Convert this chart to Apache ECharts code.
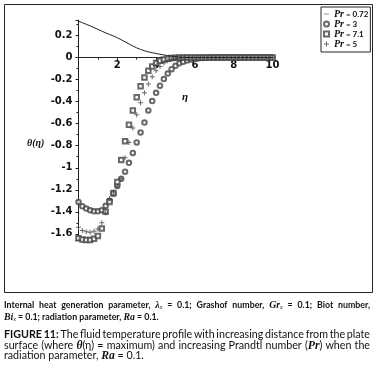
<!DOCTYPE html>
<html>
<head>
<meta charset="utf-8">
<script src="https://cdn.jsdelivr.net/npm/echarts@6/dist/echarts.min.js"></script>
<style>
  html, body { margin: 0; padding: 0; background: #fff; }
  #main { width: 377px; height: 371px; }
</style>
</head>
<body>
<div id="main"></div>
<script>
// eta grid (x values)
var eta = [0, 0.2, 0.4, 0.6, 0.8, 1.0, 1.2, 1.4, 1.6, 1.8,
  2.0, 2.2, 2.4, 2.6, 2.8, 3.0, 3.2, 3.4, 3.6, 3.8,
  4.0, 4.2, 4.4, 4.6, 4.8, 5.0, 5.2, 5.4, 5.6, 5.8,
  6.0, 6.2, 6.4, 6.6, 6.8, 7.0, 7.2, 7.4, 7.6, 7.8,
  8.0, 8.2, 8.4, 8.6, 8.8, 9.0, 9.2, 9.4, 9.6, 9.8, 10.0];

// Pr = 0.72 (solid line)
var pr072 = [0.33, 0.316, 0.302, 0.288, 0.272, 0.256, 0.240, 0.224, 0.210, 0.196,
  0.180, 0.162, 0.143, 0.124, 0.105, 0.088, 0.074, 0.062, 0.052, 0.044,
  0.037, 0.030, 0.024, 0.018, 0.012, 0.007, 0.004, 0.002, 0.001, 0,
  0, 0, 0, 0, 0, 0, 0, 0, 0, 0,
  0, 0, 0, 0, 0, 0, 0, 0, 0, 0, 0];

// Pr = 3 (circles)
var pr3 = [-1.31, -1.35, -1.37, -1.385, -1.395, -1.395, -1.385, -1.345, -1.30, -1.235,
  -1.165, -1.10, -1.035, -0.955, -0.865, -0.77, -0.68, -0.59, -0.48, -0.395,
  -0.32, -0.255, -0.195, -0.145, -0.105, -0.075, -0.052, -0.038, -0.027, -0.018,
  -0.012, -0.007, -0.004, -0.002, 0, 0, 0, 0, 0, 0,
  0, 0, 0, 0, 0, 0, 0, 0, 0, 0, 0];

// Pr = 7.1 (squares)
var pr71 = [-1.64, -1.65, -1.655, -1.655, -1.645, -1.62, -1.55, -1.40, -1.31, -1.23,
  -1.13, -0.93, -0.76, -0.61, -0.48, -0.36, -0.26, -0.18, -0.12, -0.08,
  -0.05, -0.03, -0.018, -0.01, -0.005, -0.002, 0, 0, 0, 0,
  0, 0, 0, 0, 0, 0, 0, 0, 0, 0,
  0, 0, 0, 0, 0, 0, 0, 0, 0, 0, 0];

// Pr = 5 (plus)
var pr5 = [-1.54, -1.57, -1.58, -1.585, -1.575, -1.555, -1.50, -1.41, -1.28, -1.22,
  -1.17, -1.10, -0.91, -0.77, -0.64, -0.52, -0.41, -0.32, -0.24, -0.175,
  -0.12, -0.08, -0.05, -0.03, -0.017, -0.009, -0.004, -0.002, 0, 0,
  0, 0, 0, 0, 0, 0, 0, 0, 0, 0,
  0, 0, 0, 0, 0, 0, 0, 0, 0, 0, 0];

var seriesNames = ['Pr = 0.72', 'Pr = 3', 'Pr = 7.1', 'Pr = 5'];

function pairs(ys) {
  return eta.map(function (x, i) { return [x, ys[i]]; });
}

var plusPath = 'path://M2,0H3V2H5V3H3V5H2V3H0V2H2Z';
var axisFont = 'DejaVu Sans';
var capFont = 'Lato';
var mathFont = 'Liberation Serif';
var ink = '#222';
var markInk = '#444';

function capRich(size) {
  return {
    m: { fontFamily: mathFont, fontStyle: 'italic', fontWeight: 'bold', fontSize: size + 1 },
    s: { fontFamily: mathFont, fontStyle: 'italic', fontWeight: 'normal', fontSize: 6, verticalAlign: 'bottom' },
    b: { fontFamily: capFont, fontStyle: 'normal', fontWeight: 'bold', fontSize: size }
  };
}

// measure a word that may hold {tag|text} pieces
var measureCtx = document.createElement('canvas').getContext('2d');
function wordWidth(word, size, weight) {
  var fonts = {
    '': weight + ' ' + size + 'px ' + capFont,
    m: 'italic bold ' + (size + 1) + 'px "' + mathFont + '"',
    s: 'italic 6px "' + mathFont + '"',
    b: 'bold ' + size + 'px ' + capFont
  };
  var re = /\{(\w)\|([^}]*)\}/g, last = 0, w = 0, mm;
  while ((mm = re.exec(word)) !== null) {
    if (mm.index > last) { measureCtx.font = fonts['']; w += measureCtx.measureText(word.slice(last, mm.index)).width; }
    measureCtx.font = fonts[mm[1]];
    w += measureCtx.measureText(mm[2]).width;
    last = re.lastIndex;
  }
  if (last < word.length) { measureCtx.font = fonts['']; w += measureCtx.measureText(word.slice(last)).width; }
  return w;
}

// lay a caption line out word by word, optionally stretched to a width
function capLine(x, y, txt, size, weight, justifyTo) {
  var rich = capRich(size);
  var words = txt.split(' ');
  var widths = words.map(function (w) { return wordWidth(w, size, weight); });
  measureCtx.font = weight + ' ' + size + 'px ' + capFont;
  var spaceW = measureCtx.measureText(' ').width;
  var total = widths.reduce(function (a, b) { return a + b; }, 0);
  var gap = justifyTo ? (justifyTo - total) / (words.length - 1) : spaceW;
  var out = [];
  var cx = x;
  words.forEach(function (w, i) {
    out.push({
      type: 'text', x: cx, y: y,
      style: {
        text: w, fontFamily: capFont, fontSize: size, fontWeight: weight, fontStyle: 'normal',
        rich: rich, fill: '#111', verticalAlign: 'middle'
      }
    });
    cx += widths[i] + gap;
  });
  return out;
}

var myChart = echarts.init(document.getElementById('main'));

var zeroOffset = -(240.5 - 57.57);

var graphics = [
  { type: 'rect', shape: { x: 4.5, y: 4.5, width: 368, height: 288 }, style: { fill: 'none', stroke: ink, lineWidth: 1 }, z: 0 },
  { type: 'text', x: 182, y: 97, style: { text: 'η', fontFamily: mathFont, fontStyle: 'italic', fontWeight: 'bold', fontSize: 11, fill: '#111', verticalAlign: 'middle' } },
  { type: 'text', x: 27, y: 143, style: { text: 'θ(η)', fontFamily: mathFont, fontStyle: 'italic', fontWeight: 'bold', fontSize: 10, fill: '#111', verticalAlign: 'middle' } }
];
graphics = graphics
  .concat(capLine(4, 305, 'Internal heat generation parameter, {m|λ}{s|x} = 0.1; Grashof number, {m|Gr}{s|x} = 0.1; Biot number,', 8.8, 'bold', 366))
  .concat(capLine(4, 317.3, '{m|Bi}{s|x} = 0.1; radiation parameter, {m|Ra} = 0.1.', 8.8, 'bold', 0))
  .concat(capLine(4, 335, '{b|FIGURE} {b|11:} The fluid temperature profile with increasing distance from the plate', 10.7, 'normal', 366))
  .concat(capLine(4, 345.5, 'surface (where {m|θ}(η) = maximum) and increasing Prandtl number ({m|Pr}) when the', 10.7, 'normal', 366))
  .concat(capLine(4, 356, 'radiation parameter, {m|Ra} = 0.1.', 10.7, 'normal', 0));

var options = {
  backgroundColor: '#fff',
  animation: false,
  grid: { left: 78.5, right: 104.5, top: 20.1, bottom: 130.5 },
  xAxis: {
    type: 'value', min: 0, max: 10, interval: 2, offset: zeroOffset,
    axisLine: { onZero: false, lineStyle: { color: ink, width: 1 } },
    axisTick: { show: true, length: 3, lineStyle: { color: ink } },
    minorTick: { show: true, splitNumber: 2, length: 2, lineStyle: { color: ink } },
    splitLine: { show: false },
    axisLabel: { showMinLabel: false, margin: 3, color: '#111', fontFamily: axisFont, fontWeight: 'bold', fontSize: 10 }
  },
  yAxis: {
    type: 'value', min: -1.66, max: 0.34, splitNumber: 10,
    axisLine: { show: true, onZero: false, lineStyle: { color: ink, width: 1 } },
    axisTick: { show: true, length: 3, lineStyle: { color: ink } },
    minorTick: { show: true, splitNumber: 2, length: 2, lineStyle: { color: ink } },
    splitLine: { show: false },
    axisLabel: {
      showMinLabel: false, showMaxLabel: false, margin: 6,
      color: '#111', fontFamily: axisFont, fontWeight: 'bold', fontSize: 10,
      formatter: function (v) { return String(Math.round(v * 10) / 10); }
    }
  },
  legend: {
    orient: 'vertical', left: 321, top: 7,
    padding: [2, 2, 3, 2], itemGap: 0, itemWidth: 5, itemHeight: 5,
    borderColor: ink, borderWidth: 1, borderRadius: 0,
    data: [
      { name: seriesNames[0], icon: 'path://M0,3H10V4H0Z' },
      { name: seriesNames[1], icon: 'emptyCircle' },
      { name: seriesNames[2], icon: 'emptyRect' },
      { name: seriesNames[3], icon: plusPath }
    ],
    formatter: function (name) { return '{i|Pr}{v|' + name.slice(2) + '}'; },
    textStyle: {
      rich: {
        i: { fontFamily: mathFont, fontStyle: 'italic', fontWeight: 'bold', fontSize: 10, color: '#111', lineHeight: 11.5 },
        v: { fontFamily: capFont, fontWeight: 'bold', fontSize: 8, color: '#111', lineHeight: 11.5 }
      }
    }
  },
  graphic: graphics,
  series: [
    {
      name: seriesNames[0], type: 'line', data: pairs(pr072),
      symbol: 'none', lineStyle: { color: ink, width: 1 }, itemStyle: { color: ink }
    },
    {
      name: seriesNames[1], type: 'scatter', data: pairs(pr3),
      symbol: 'emptyCircle', symbolSize: 4.5, itemStyle: { color: markInk, borderColor: markInk, borderWidth: 0.7 }
    },
    {
      name: seriesNames[2], type: 'scatter', data: pairs(pr71),
      symbol: 'emptyRect', symbolSize: 4.5, itemStyle: { color: markInk, borderColor: markInk, borderWidth: 0.7 }
    },
    {
      name: seriesNames[3], type: 'scatter', data: pairs(pr5),
      symbol: plusPath, symbolSize: 5, itemStyle: { color: markInk }
    }
  ]
};

myChart.setOption(options);
</script>
</body>
</html>
